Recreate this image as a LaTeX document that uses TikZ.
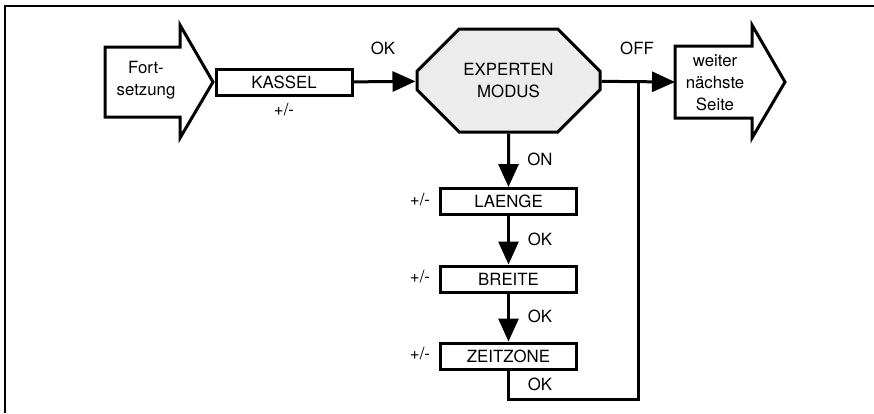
\documentclass[tikz,border=0pt]{standalone}
\usepackage{fontspec}
\setmainfont{TeX Gyre Heros}
\usetikzlibrary{arrows.meta,shapes.misc}
\tikzset{
  box/.style={draw,line width=3pt,minimum width=136pt,minimum height=26pt,inner sep=0pt},
  txt/.style={align=center,inner sep=0pt},
  pfeil/.style={line width=3pt,-{Triangle[length=23pt,width=20pt]}},
  linie/.style={line width=3pt,line join=miter}
}
\begin{document}
\begin{tikzpicture}[x=1pt,y=-1pt,font=\fontsize{16.8}{22}\selectfont]
  \useasboundingbox (0,0) rectangle (874,413);
  \draw[line width=2pt] (5,413) -- (5,6) -- (874,6);
  \draw[linie] (105,47) -- (180,47) -- (180,25) -- (213,82) -- (180,138) -- (180,117) -- (105,117) -- cycle;
  \node[txt] (fort) at (146,80) {Fort-\\setzung};
  \draw[linie] (675,46) -- (752,46) -- (752,25) -- (785,82) -- (752,138) -- (752,118) -- (675,118) -- cycle;
  \node[txt] (weiter) at (715,83) {weiter\\nächste\\Seite};
  \coordinate (weiterin) at (675,82);
  \node[box] (kassel) at (284,82.5) {KASSEL};
  \node[draw,line width=3pt,fill=gray!15,chamfered rectangle,chamfered rectangle xsep=26pt,
    chamfered rectangle ysep=25pt,minimum width=183pt,minimum height=103pt,align=center,inner sep=0pt]
    (experten) at (508.5,80.5) {EXPERTEN\\MODUS};
  \node[box] (laenge) at (508.5,201.5) {LAENGE};
  \node[box] (breite) at (508.5,279) {BREITE};
  \node[box] (zeitzone) at (508.5,356) {ZEITZONE};
  \coordinate (abzweig) at (638,82);
  \draw[pfeil] (kassel) -- (experten);
  \draw[pfeil] (experten) -- (weiterin);
  \draw[pfeil] (experten) -- (laenge);
  \draw[pfeil] (laenge) -- (breite);
  \draw[pfeil] (breite) -- (zeitzone);
  \draw[linie] (zeitzone.south) -- ++(0,29) -| (abzweig);
  \node[txt] (okkassel) at (383,48) {OK};
  \node[txt] (pmkassel) at (284,110) {+/-};
  \node[txt] (off) at (637,48) {OFF};
  \node[txt] (on) at (540,159) {ON};
  \node[txt] (pmlaenge) at (420,200) {+/-};
  \node[txt] (pmbreite) at (420,277) {+/-};
  \node[txt] (pmzeit) at (420,354) {+/-};
  \node[txt] (oklaenge) at (540,239) {OK};
  \node[txt] (okbreite) at (540,316) {OK};
  \node[txt] (okzeit) at (540,384) {OK};
\end{tikzpicture}
\end{document}
